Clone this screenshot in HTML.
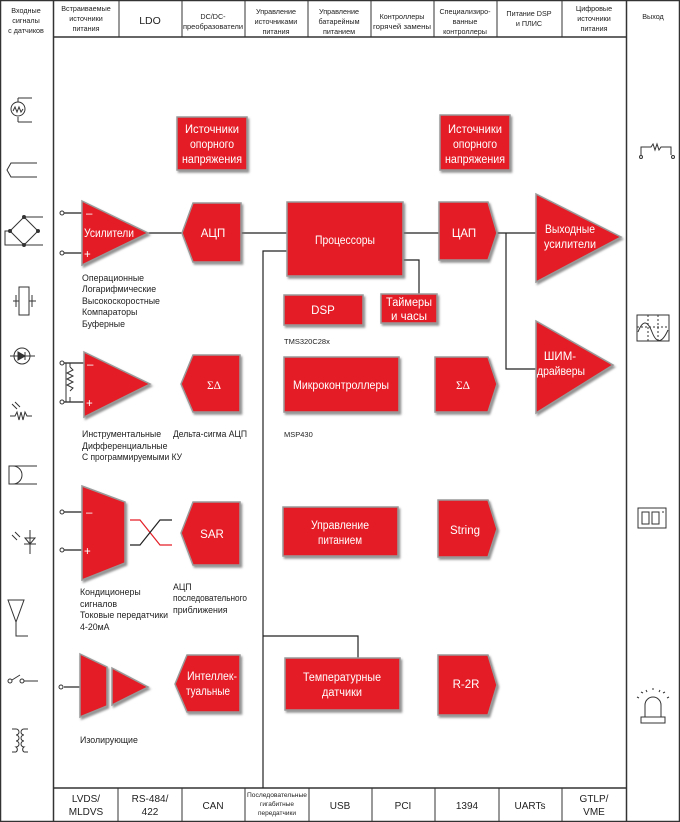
<!DOCTYPE html>
<html><head><meta charset="utf-8"><style>
html,body{margin:0;padding:0;background:#fff}
svg{display:block}
text{font-family:"Liberation Sans Narrow","Liberation Sans",sans-serif}
.h{font-size:7.2px;fill:#222;text-anchor:middle}
.w{font-size:11.5px;fill:#fff;text-anchor:middle}
.l{font-size:8.8px;fill:#222}
.r{fill:#e41f26;stroke:#999;stroke-width:1.5}
.k{stroke:#222;stroke-width:1.2;fill:none}
.i{stroke:#333;stroke-width:1;fill:none}
</style></head><body>
<svg width="680" height="822" viewBox="0 0 680 822" xmlns="http://www.w3.org/2000/svg">
<defs><filter id="s" x="-10%" y="-10%" width="130%" height="130%"><feDropShadow dx="1.5" dy="2" stdDeviation="1" flood-color="#777" flood-opacity="0.8"/></filter></defs>
<rect x="0.5" y="0.5" width="679" height="821" fill="none" stroke="#333" stroke-width="1.5"/>
<line x1="53.5" y1="0" x2="53.5" y2="822" stroke="#333" stroke-width="1.5"/>
<line x1="626.5" y1="0" x2="626.5" y2="822" stroke="#333" stroke-width="1.5"/>
<line x1="53" y1="37" x2="627" y2="37" stroke="#333" stroke-width="1.5"/>
<line x1="53" y1="788" x2="627" y2="788" stroke="#333" stroke-width="1.5"/>
<g stroke="#333" stroke-width="1">
<line x1="119" y1="0" x2="119" y2="37"/><line x1="182" y1="0" x2="182" y2="37"/><line x1="245" y1="0" x2="245" y2="37"/><line x1="308" y1="0" x2="308" y2="37"/><line x1="371" y1="0" x2="371" y2="37"/><line x1="434" y1="0" x2="434" y2="37"/><line x1="497" y1="0" x2="497" y2="37"/><line x1="562" y1="0" x2="562" y2="37"/>
<line x1="118" y1="788" x2="118" y2="822"/><line x1="182" y1="788" x2="182" y2="822"/><line x1="245" y1="788" x2="245" y2="822"/><line x1="309" y1="788" x2="309" y2="822"/><line x1="372" y1="788" x2="372" y2="822"/><line x1="435" y1="788" x2="435" y2="822"/><line x1="499" y1="788" x2="499" y2="822"/><line x1="562" y1="788" x2="562" y2="822"/>
</g>
<text class="h" x="26" y="13">Входные</text><text class="h" x="26" y="23">сигналы</text><text class="h" x="26" y="33">с датчиков</text>
<text class="h" x="86" y="11">Встраиваемые</text><text class="h" x="86" y="21">источники</text><text class="h" x="86" y="31">питания</text>
<text class="h" x="150" y="24" style="font-size:10.5px">LDO</text>
<text class="h" x="213" y="19">DC/DC-</text><text class="h" x="213" y="29" textLength="60" lengthAdjust="spacingAndGlyphs">преобразователи</text>
<text class="h" x="276" y="14">Управление</text><text class="h" x="276" y="24">источниками</text><text class="h" x="276" y="34">питания</text>
<text class="h" x="339" y="14">Управление</text><text class="h" x="339" y="24">батарейным</text><text class="h" x="339" y="34">питанием</text>
<text class="h" x="402" y="19">Контроллеры</text><text class="h" x="402" y="29" textLength="58" lengthAdjust="spacingAndGlyphs">горячей замены</text>
<text class="h" x="465" y="14">Специализиро-</text><text class="h" x="465" y="24">ванные</text><text class="h" x="465" y="34">контроллеры</text>
<text class="h" x="529" y="16">Питание DSP</text><text class="h" x="529" y="26">и ПЛИС</text>
<text class="h" x="594" y="11">Цифровые</text><text class="h" x="594" y="21">источники</text><text class="h" x="594" y="31">питания</text>
<text class="h" x="653" y="19">Выход</text>
<text class="h" style="font-size:10px" x="86" y="802">LVDS/</text><text class="h" style="font-size:10px" x="86" y="815">MLDVS</text>
<text class="h" style="font-size:10px" x="150" y="802">RS-484/</text><text class="h" style="font-size:10px" x="150" y="815">422</text>
<text class="h" style="font-size:10px" x="213" y="809">CAN</text>
<text class="h" style="font-size:6.5px" x="277" y="797" textLength="60" lengthAdjust="spacingAndGlyphs">Последовательные</text><text class="h" style="font-size:6.5px" x="277" y="806">гигабитные</text><text class="h" style="font-size:6.5px" x="277" y="815">передатчики</text>
<text class="h" style="font-size:10px" x="340" y="809">USB</text>
<text class="h" style="font-size:10px" x="403" y="809">PCI</text>
<text class="h" style="font-size:10px" x="467" y="809">1394</text>
<text class="h" style="font-size:10px" x="530" y="809">UARTs</text>
<text class="h" style="font-size:10px" x="594" y="802">GTLP/</text><text class="h" style="font-size:10px" x="594" y="815">VME</text>
<g class="k">
<polyline points="148,233 182,233"/><polyline points="241,233 287,233"/>
<polyline points="287,251 263,251 263,788"/>
<polyline points="403,233 439,233"/>
<polyline points="403,260 419,260 419,294"/>
<polyline points="497,233 537,233"/><polyline points="506,233 506,369 537,369"/>
<polyline points="263,636 358,636 358,658"/>
<line x1="64" y1="213" x2="82" y2="213"/><line x1="64" y1="253" x2="82" y2="253"/>
<line x1="64" y1="363" x2="84" y2="363"/><line x1="64" y1="402" x2="84" y2="402"/>
<line x1="64" y1="512" x2="82" y2="512"/><line x1="64" y1="550" x2="82" y2="550"/>
<line x1="64" y1="687" x2="80" y2="687"/>
</g>
<g fill="#fff" stroke="#333" stroke-width="1"><circle cx="62" cy="213" r="2"/><circle cx="62" cy="253" r="2"/><circle cx="62" cy="363" r="2"/><circle cx="62" cy="402" r="2"/><circle cx="62" cy="512" r="2"/><circle cx="62" cy="550" r="2"/><circle cx="61" cy="687" r="2"/></g>
<path d="M70,367 l3,3 -6,3 6,3 -6,3 6,3 -6,3 6,3 -3,3 M70,367 v-4 M70,397 v5 M66,363 v39" class="i"/>
<path d="M130,520 h10 l20,25 h12" stroke="#e41f26" fill="none" stroke-width="1.2"/>
<path d="M130,545 h10 l20,-25 h12" stroke="#222" fill="none" stroke-width="1.2"/>
<g filter="url(#s)">
<rect class="r" x="177" y="117" width="70" height="53"/>
<rect class="r" x="440" y="115" width="70" height="55"/>
<polygon class="r" points="82,201 148,233 82,265"/>
<polygon class="r" points="182,233 193,203 241,203 241,262 193,262"/>
<rect class="r" x="287" y="202" width="116" height="74"/>
<polygon class="r" points="439,202 488,202 497,233 488,260 439,260"/>
<polygon class="r" points="536,194 621,237 536,282"/>
<polygon class="r" points="536,321 613,365 536,413"/>
<rect class="r" x="381" y="294" width="56" height="29"/>
<rect class="r" x="284" y="295" width="79" height="30"/>
<rect class="r" x="284" y="357" width="115" height="55"/>
<polygon class="r" points="435,357 488,357 497,384 488,412 435,412"/>
<polygon class="r" points="181,384 193,355 240,355 240,412 193,412"/>
<polygon class="r" points="84,352 150,384 84,417"/>
<polygon class="r" points="82,486 125,502 125,563 82,580"/>
<polygon class="r" points="181,533 193,502 240,502 240,565 193,565"/>
<rect class="r" x="283" y="507" width="115" height="49"/>
<polygon class="r" points="438,500 488,500 497,529 488,557 438,557"/>
<polygon class="r" points="80,654 107,667 107,706 80,717"/>
<polygon class="r" points="112,668 148,687 112,705"/>
<polygon class="r" points="175,684 187,655 240,655 240,712 187,712"/>
<rect class="r" x="285" y="658" width="115" height="52"/>
<polygon class="r" points="438,655 488,655 497,685 488,715 438,715"/>
</g>
<text class="w" x="212" y="133" textLength="54" lengthAdjust="spacingAndGlyphs">Источники</text><text class="w" x="212" y="148" textLength="44" lengthAdjust="spacingAndGlyphs">опорного</text><text class="w" x="212" y="163" textLength="60" lengthAdjust="spacingAndGlyphs">напряжения</text>
<text class="w" x="475" y="133" textLength="54" lengthAdjust="spacingAndGlyphs">Источники</text><text class="w" x="475" y="148" textLength="44" lengthAdjust="spacingAndGlyphs">опорного</text><text class="w" x="475" y="163" textLength="60" lengthAdjust="spacingAndGlyphs">напряжения</text>
<text class="w" x="84" y="237" style="text-anchor:start" textLength="50" lengthAdjust="spacingAndGlyphs">Усилители</text>
<text class="w" x="86" y="217" style="text-anchor:start">–</text><text class="w" x="84" y="258" style="text-anchor:start">+</text>
<text class="w" x="213" y="237">АЦП</text>
<text class="w" x="345" y="244" textLength="60" lengthAdjust="spacingAndGlyphs">Процессоры</text>
<text class="w" x="464" y="237">ЦАП</text>
<text class="w" x="570" y="233" textLength="50" lengthAdjust="spacingAndGlyphs">Выходные</text><text class="w" x="570" y="248" textLength="52" lengthAdjust="spacingAndGlyphs">усилители</text>
<text class="w" x="560" y="360">ШИМ-</text><text class="w" x="561" y="375" textLength="48" lengthAdjust="spacingAndGlyphs">драйверы</text>
<text class="w" x="409" y="306" textLength="46" lengthAdjust="spacingAndGlyphs">Таймеры</text><text class="w" x="409" y="320">и часы</text>
<text class="w" x="323" y="314">DSP</text>
<text class="w" x="341" y="389" textLength="96" lengthAdjust="spacingAndGlyphs">Микроконтроллеры</text>
<text class="w" x="463" y="389" style="font-family:'Liberation Serif',serif">ΣΔ</text>
<text class="w" x="214" y="389" style="font-family:'Liberation Serif',serif">ΣΔ</text>
<text class="w" x="87" y="368" style="text-anchor:start">–</text><text class="w" x="86" y="407" style="text-anchor:start">+</text>
<text class="w" x="86" y="516" style="text-anchor:start">–</text><text class="w" x="84" y="555" style="text-anchor:start">+</text>
<text class="w" x="212" y="538">SAR</text>
<text class="w" x="340" y="529" textLength="58" lengthAdjust="spacingAndGlyphs">Управление</text><text class="w" x="340" y="544" textLength="44" lengthAdjust="spacingAndGlyphs">питанием</text>
<text class="w" x="465" y="534">String</text>
<text class="w" x="212" y="680" textLength="50" lengthAdjust="spacingAndGlyphs">Интеллек-</text><text class="w" x="208" y="695" textLength="44" lengthAdjust="spacingAndGlyphs">туальные</text>
<text class="w" x="342" y="681" textLength="78" lengthAdjust="spacingAndGlyphs">Температурные</text><text class="w" x="342" y="696" textLength="40" lengthAdjust="spacingAndGlyphs">датчики</text>
<text class="w" x="466" y="688">R-2R</text>
<g class="l">
<text x="82" y="281">Операционные</text><text x="82" y="292">Логарифмические</text><text x="82" y="304">Высокоскоростные</text><text x="82" y="315">Компараторы</text><text x="82" y="327">Буферные</text>
<text x="284" y="344" style="font-size:7.5px">TMS320C28x</text>
<text x="284" y="437" style="font-size:7.5px">MSP430</text>
<text x="82" y="437">Инструментальные</text><text x="82" y="449">Дифференциальные</text><text x="82" y="460" textLength="100" lengthAdjust="spacingAndGlyphs">С программируемыми КУ</text>
<text x="173" y="437" textLength="74" lengthAdjust="spacingAndGlyphs">Дельта-сигма  АЦП</text>
<text x="80" y="595">Кондиционеры</text><text x="80" y="607">сигналов</text><text x="80" y="618" textLength="88" lengthAdjust="spacingAndGlyphs">Токовые передатчики</text><text x="80" y="630">4-20мА</text>
<text x="173" y="590">АЦП</text><text x="173" y="601" textLength="74" lengthAdjust="spacingAndGlyphs">последовательного</text><text x="173" y="613">приближения</text>
<text x="80" y="743">Изолирующие</text>
</g>
<g class="i">
<circle cx="18" cy="109" r="7"/><path d="M13,111 l2,-4 2,5 2,-5 2,5 2,-3"/><path d="M18,98 h14 M18,122 h14 M18,98 v4 M18,122 v-5"/>
<path d="M37,163 h-26 l-4,7 4,7 h26"/>
<path d="M24,217 l-14,14 14,14 14,-14 z M24,217 h19 M24,245 h19 M10,231 h-5 v14 h19"/>
<g fill="#333"><circle cx="24" cy="217" r="1.5"/><circle cx="10" cy="231" r="1.5"/><circle cx="38" cy="231" r="1.5"/><circle cx="24" cy="245" r="1.5"/></g>
<rect x="19" y="287" width="10" height="28"/><path d="M13,301 h6 M29,301 h7 M16,295 v12 M32,295 v12"/>
<circle cx="22" cy="356" r="8"/><path d="M10,356 h25"/><path d="M18,352 v8 l7,-4 z" fill="#333"/><path d="M25,352 v8"/>
<path d="M10,416 h5 l2,-4 2,8 2,-8 2,8 2,-8 2,4 h5"/><path d="M12,404 l5,5 M15,402 l5,5"/>
<path d="M9,466 h4 a9,9 0 0 1 0,18 h-4 z M13,466 h24 M13,484 h24"/>
<path d="M30,530 v24 M24,544 h12 M30,544 l-5,-6 h10 z M12,535 l5,5 M15,532 l5,5"/>
<path d="M8,600 l8,22 8,-22 z M16,622 v14 h12 M8,600 h16"/>
<circle cx="10" cy="681" r="2"/><circle cx="22" cy="681" r="2"/><path d="M12,680 l8,-5 M24,681 h14"/>
<path d="M12,729 h4 M12,752 h4 M16,729 a3,3 0 0 1 0,6 a3,3 0 0 1 0,6 a3,3 0 0 1 0,6 a3,3 0 0 1 0,5 M24,729 h4 M24,752 h4 M24,729 a3,3 0 0 0 0,6 a3,3 0 0 0 0,6 a3,3 0 0 0 0,6 a3,3 0 0 0 0,5"/>
<path d="M641,155 v-8 h10 l2,-3 2,6 2,-6 2,6 2,-3 h10 v8"/><circle cx="641" cy="157" r="1.5"/><circle cx="673" cy="157" r="1.5"/>
<rect x="637" y="315" width="32" height="26"/><path d="M638,332 q7,-18 14,0 q7,18 16,-2" /><path d="M637,327 h32 M648,315 v26 M658,315 v26" stroke-dasharray="2,2"/>
<rect x="638" y="508" width="28" height="20"/><rect x="642" y="512" width="7" height="12"/><rect x="652" y="512" width="7" height="12"/><path d="M662,512 h2"/>
<path d="M645,717 v-12 a8,8 0 0 1 16,0 v12 M641,717 h24 v6 h-24 z"/><path d="M637,697 l2,1 M641,692 l2,1 M646,690 l1,2 M653,688 v2 M660,690 l-1,2 M665,692 l-2,1 M669,697 l-2,1"/>
</g>
</svg>
</body></html>
